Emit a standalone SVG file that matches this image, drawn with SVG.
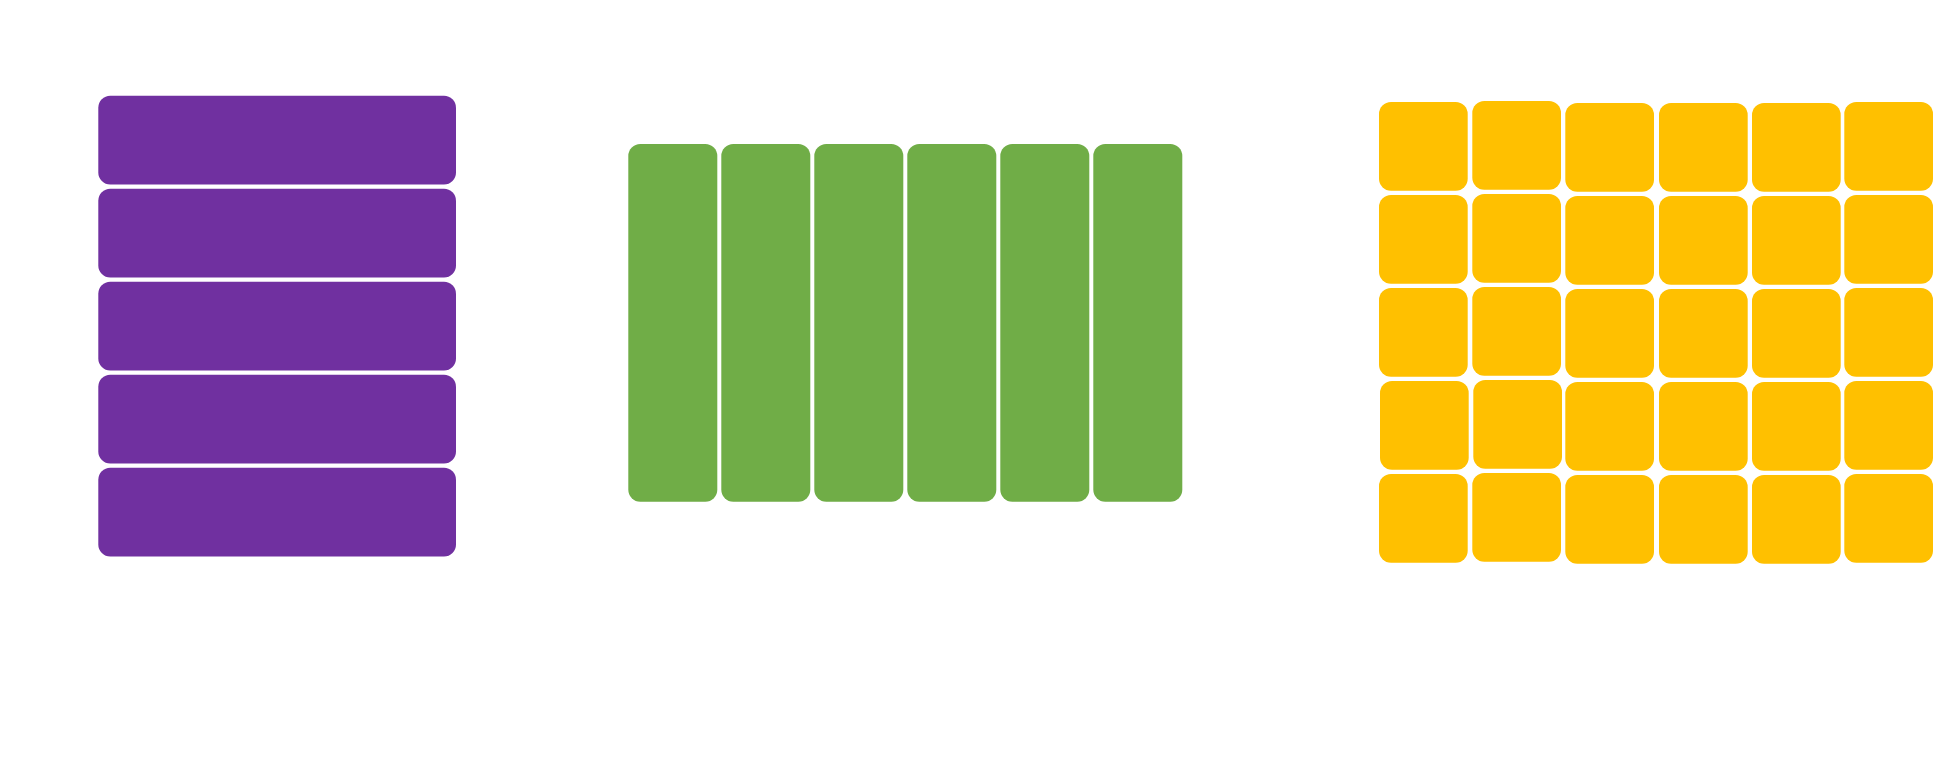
<svg xmlns="http://www.w3.org/2000/svg" width="1938" height="778" viewBox="0 0 1938 778">
<style>
.p{fill:#7030A0}
.g{fill:#70AD47}
.y{fill:#FFC000}
</style>
<rect width="1938" height="778" fill="#FFFFFF"/>
<g id="purple-rows">
<g id="row1"><rect class="p" x="98.3" y="95.7" width="357.7" height="88.7" rx="12"/></g>
<g id="row2"><rect class="p" x="98.3" y="188.7" width="357.7" height="88.7" rx="12"/></g>
<g id="row3"><rect class="p" x="98.3" y="281.7" width="357.7" height="88.7" rx="12"/></g>
<g id="row4"><rect class="p" x="98.3" y="374.7" width="357.7" height="88.7" rx="12"/></g>
<g id="row5"><rect class="p" x="98.3" y="467.7" width="357.7" height="88.7" rx="12"/></g>
</g>
<g id="green-columns">
<g id="col1"><rect class="g" x="628.3" y="144" width="89" height="357.7" rx="12"/></g>
<g id="col2"><rect class="g" x="721.3" y="144" width="89" height="357.7" rx="12"/></g>
<g id="col3"><rect class="g" x="814.3" y="144" width="89" height="357.7" rx="12"/></g>
<g id="col4"><rect class="g" x="907.3" y="144" width="89" height="357.7" rx="12"/></g>
<g id="col5"><rect class="g" x="1000.3" y="144" width="89" height="357.7" rx="12"/></g>
<g id="col6"><rect class="g" x="1093.3" y="144" width="89" height="357.7" rx="12"/></g>
</g>
<g id="yellow-grid">
<g id="c1r1"><rect class="y" x="1379" y="102" width="88.7" height="88.7" rx="12"/></g>
<g id="c1r2"><rect class="y" x="1379" y="195" width="88.7" height="88.7" rx="12"/></g>
<g id="c1r3"><rect class="y" x="1379" y="288" width="88.7" height="88.7" rx="12"/></g>
<g id="c1r4"><rect class="y" x="1380" y="381" width="88.7" height="88.7" rx="12"/></g>
<g id="c1r5"><rect class="y" x="1379" y="474" width="88.7" height="88.7" rx="12"/></g>
<g id="c2r1"><rect class="y" x="1472.3" y="101" width="88.7" height="88.7" rx="12"/></g>
<g id="c2r2"><rect class="y" x="1472.3" y="194" width="88.7" height="88.7" rx="12"/></g>
<g id="c2r3"><rect class="y" x="1472.3" y="287" width="88.7" height="88.7" rx="12"/></g>
<g id="c2r4"><rect class="y" x="1473.3" y="380" width="88.7" height="88.7" rx="12"/></g>
<g id="c2r5"><rect class="y" x="1472.3" y="473" width="88.7" height="88.7" rx="12"/></g>
<g id="c3r1"><rect class="y" x="1565.3" y="103" width="88.7" height="88.7" rx="12"/></g>
<g id="c3r2"><rect class="y" x="1565.3" y="196" width="88.7" height="88.7" rx="12"/></g>
<g id="c3r3"><rect class="y" x="1565.3" y="289" width="88.7" height="88.7" rx="12"/></g>
<g id="c3r4"><rect class="y" x="1565.3" y="382" width="88.7" height="88.7" rx="12"/></g>
<g id="c3r5"><rect class="y" x="1565.3" y="475" width="88.7" height="88.7" rx="12"/></g>
<g id="c4r1"><rect class="y" x="1659" y="103" width="88.7" height="88.7" rx="12"/></g>
<g id="c4r2"><rect class="y" x="1659" y="196" width="88.7" height="88.7" rx="12"/></g>
<g id="c4r3"><rect class="y" x="1659" y="289" width="88.7" height="88.7" rx="12"/></g>
<g id="c4r4"><rect class="y" x="1659" y="382" width="88.7" height="88.7" rx="12"/></g>
<g id="c4r5"><rect class="y" x="1659" y="475" width="88.7" height="88.7" rx="12"/></g>
<g id="c5r1"><rect class="y" x="1752" y="103" width="88.7" height="88.7" rx="12"/></g>
<g id="c5r2"><rect class="y" x="1752" y="196" width="88.7" height="88.7" rx="12"/></g>
<g id="c5r3"><rect class="y" x="1752" y="289" width="88.7" height="88.7" rx="12"/></g>
<g id="c5r4"><rect class="y" x="1752" y="382" width="88.7" height="88.7" rx="12"/></g>
<g id="c5r5"><rect class="y" x="1752" y="475" width="88.7" height="88.7" rx="12"/></g>
<g id="c6r1"><rect class="y" x="1844.3" y="102" width="88.7" height="88.7" rx="12"/></g>
<g id="c6r2"><rect class="y" x="1844.3" y="195" width="88.7" height="88.7" rx="12"/></g>
<g id="c6r3"><rect class="y" x="1844.3" y="288" width="88.7" height="88.7" rx="12"/></g>
<g id="c6r4"><rect class="y" x="1844.3" y="381" width="88.7" height="88.7" rx="12"/></g>
<g id="c6r5"><rect class="y" x="1844.3" y="474" width="88.7" height="88.7" rx="12"/></g>
</g>
<g id="connectors"/>
</svg>
